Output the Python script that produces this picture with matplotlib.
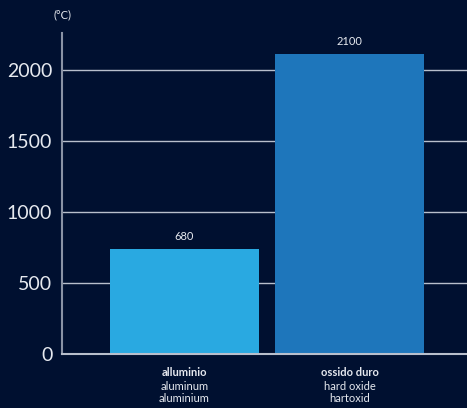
import matplotlib
matplotlib.use("Agg")
import matplotlib.pyplot as plt
import matplotlib.transforms as mtransforms

# bar heights as drawn, and the value labels printed above them
categories = ["alluminio", "ossido duro"]
subnames = [["aluminum", "aluminium"], ["hard oxide", "hartoxid"]]
heights = [740, 2115]
value_labels = ["680", "2100"]
yticks = [0, 500, 1000, 1500, 2000]

bg = "#001030"
bar_colors = ["#29a9e1", "#1e76bb"]
text_col = "#e6e9ef"
line_col = "#b8bfcc"

plt.rcParams["font.family"] = ["Lato", "DejaVu Sans"]

fig = plt.figure(figsize=(4.67, 4.08), dpi=100, facecolor=bg)
ax = fig.add_axes([0.1328, 0.1324, 0.8672, 0.7867])
ax.set_facecolor(bg)

# grid first so bars cover it
for t in yticks[1:]:
    ax.axhline(t, color=line_col, lw=1.0, zorder=1)

x = list(range(len(categories)))
ax.bar(x, heights, width=0.903, color=bar_colors, zorder=2)

for xi, h, lab in zip(x, heights, value_labels):
    ax.text(xi, h + 45, lab, ha="center", va="bottom", fontsize=8, color=text_col)

ax.set_xlim(-0.742, 1.712)
ax.set_ylim(0, 2260)

ax.set_yticks(yticks)
ax.set_yticklabels([str(t) for t in yticks], fontsize=14, color=text_col)
ax.tick_params(axis="y", length=0, pad=7)
ax.set_xticks([])

for s in ["top", "right"]:
    ax.spines[s].set_visible(False)
ax.spines["left"].set_color("#8a93a5")
ax.spines["left"].set_linewidth(1.5)
ax.spines["bottom"].set_color(line_col)
ax.spines["bottom"].set_linewidth(1.5)

trans = mtransforms.blended_transform_factory(ax.transData, fig.transFigure)
for xi, name, subs in zip(x, categories, subnames):
    ax.text(xi, 1 - 373 / 408, name, transform=trans, ha="center", va="center",
            fontsize=8, fontweight="bold", color=text_col)
    for k, s in enumerate(subs):
        ax.text(xi, 1 - (386 + 12 * k) / 408, s, transform=trans, ha="center",
                va="center", fontsize=8, color=text_col)

fig.text(63 / 467, 1 - 15 / 408, "(°C)", ha="center", va="center",
         fontsize=8, color=text_col)

fig.savefig("out.png", dpi=100, facecolor=bg)
